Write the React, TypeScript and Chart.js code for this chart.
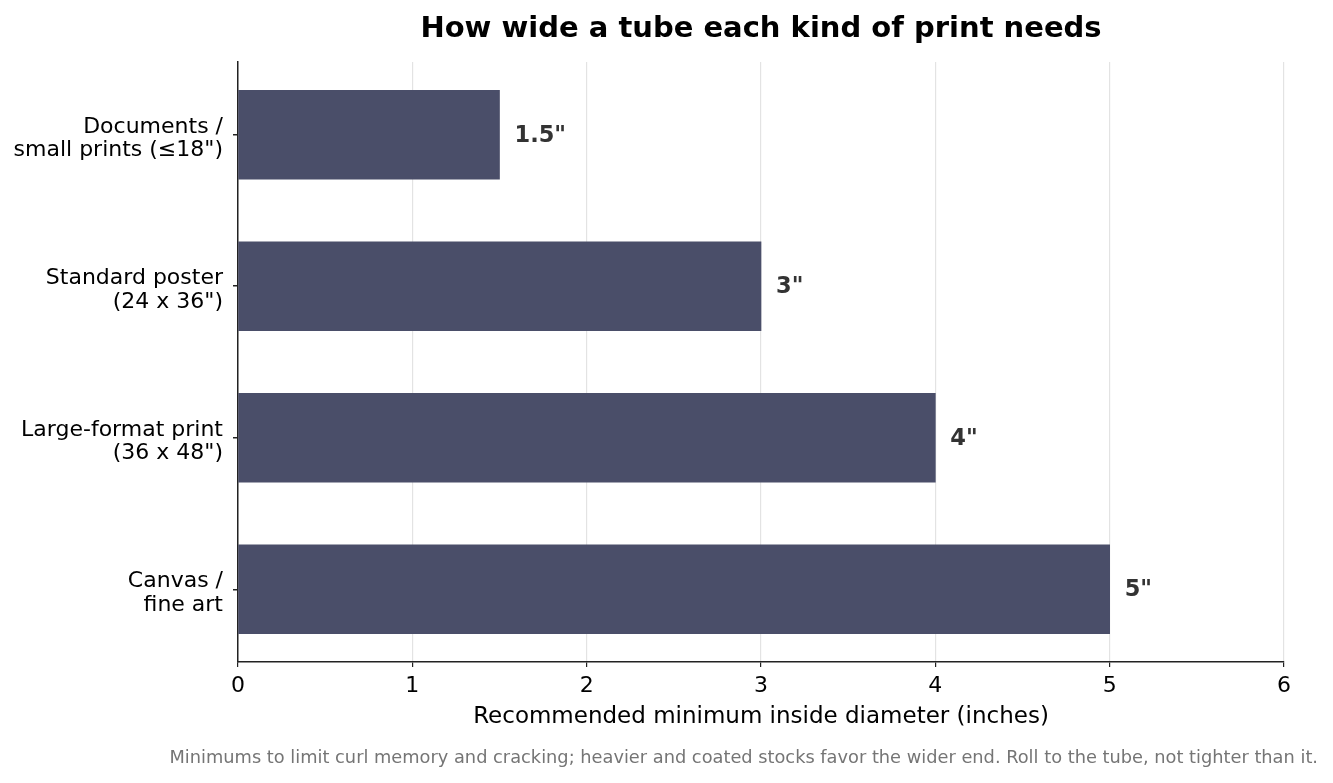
import React, { useEffect, useRef } from "react";
import { Chart, registerables } from "chart.js";

Chart.register(...registerables);

const categories: string[][] = [
  ["Documents /", "small prints (≤18\")"],
  ["Standard poster", "(24 x 36\")"],
  ["Large-format print", "(36 x 48\")"],
  ["Canvas /", "fine art"],
];
const diameters: number[] = [1.5, 3, 4, 5];
const valueLabels: string[] = ["1.5\"", "3\"", "4\"", "5\""];
const xTicks: number[] = [0, 1, 2, 3, 4, 5, 6];

const TITLE = "How wide a tube each kind of print needs";
const X_TITLE = "Recommended minimum inside diameter (inches)";
const FOOTNOTE =
  "Minimums to limit curl memory and cracking; heavier and coated stocks favor the wider end. Roll to the tube, not tighter than it.";

const FONT = "'DejaVu Sans', sans-serif";

const textPlugin = {
  id: "textPlugin",
  afterDatasetsDraw(chart: any) {
    const { ctx } = chart;
    const meta = chart.getDatasetMeta(0);
    ctx.save();
    ctx.font = `bold 22.5px ${FONT}`;
    ctx.fillStyle = "#333333";
    ctx.textAlign = "left";
    ctx.textBaseline = "middle";
    meta.data.forEach((bar: any, i: number) => {
      ctx.fillText(valueLabels[i], bar.x + 15, bar.y + 1);
    });
    ctx.restore();
  },
  afterDraw(chart: any) {
    const { ctx, chartArea, width } = chart;
    ctx.save();
    ctx.font = `bold 29px ${FONT}`;
    ctx.fillStyle = "#000000";
    ctx.textAlign = "center";
    ctx.textBaseline = "middle";
    ctx.fillText(TITLE, (chartArea.left + chartArea.right) / 2, 29);
    ctx.font = `17.8px ${FONT}`;
    ctx.fillStyle = "#757575";
    ctx.textAlign = "right";
    ctx.fillText(FOOTNOTE, width - 15, 758.5);
    ctx.restore();
  },
};

export default function App() {
  const ref = useRef<HTMLCanvasElement | null>(null);
  useEffect(() => {
    document.body.style.margin = "0";
    const points = diameters.map((v, i) => ({ x: v, y: i }));
    const chart = new Chart(ref.current as HTMLCanvasElement, {
      type: "bar",
      data: {
        datasets: [
          {
            data: points,
            backgroundColor: "#4a4e69",
            borderWidth: 0,
            barThickness: 89,
          },
        ],
      },
      options: {
        indexAxis: "y",
        animation: false,
        responsive: false,
        maintainAspectRatio: false,
        layout: { padding: { top: 62, right: 49, bottom: 0, left: 0 } },
        plugins: {
          legend: { display: false },
          tooltip: { enabled: false },
          title: { display: false },
        },
        scales: {
          x: {
            type: "linear",
            min: 0,
            max: 6,
            afterBuildTicks: (axis: any) => {
              axis.ticks = xTicks.map((v) => ({ value: v }));
            },
            afterFit: (axis: any) => {
              axis.height = 121;
            },
            ticks: {
              font: { family: FONT, size: 22 },
              color: "#000000",
              padding: 6,
            },
            grid: {
              color: "#e3e3e3",
              tickColor: "#222222",
              tickLength: 5,
              lineWidth: 1.2,
            },
            border: { display: true, color: "#222222", width: 1.5 },
            title: {
              display: true,
              text: X_TITLE,
              font: { family: FONT, size: 23 },
              color: "#000000",
              padding: { top: 0, bottom: 52 },
            },
          },
          y: {
            type: "linear",
            reverse: true,
            offset: false,
            min: -0.48,
            max: 3.48,
            afterBuildTicks: (axis: any) => {
              axis.ticks = categories.map((_, i) => ({ value: i }));
            },
            afterFit: (axis: any) => {
              axis.width = 238;
            },
            ticks: {
              font: { family: FONT, size: 22, lineHeight: 1.06 },
              color: "#000000",
              padding: 10,
              labelOffset: 4,
              callback: (value: any) => categories[value as number] ?? "",
            },
            grid: {
              offset: false,
              drawOnChartArea: false,
              tickColor: "#222222",
              tickLength: 5,
              lineWidth: 1.5,
            },
            border: { display: true, color: "#222222", width: 1.5 },
          },
        },
      },
      plugins: [textPlugin],
    });
    return () => chart.destroy();
  }, []);
  return (
    <div style={{ width: 1333, height: 783, background: "#ffffff" }}>
      <canvas ref={ref} width={1333} height={783} style={{ display: "block" }} />
    </div>
  );
}
